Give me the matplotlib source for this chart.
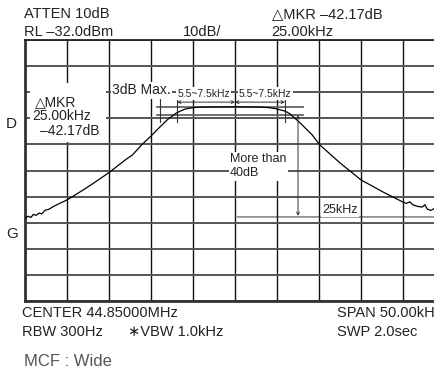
import matplotlib.pyplot as plt
from matplotlib.patches import Rectangle

plt.rcParams['font.family'] = ['Liberation Sans', 'DejaVu Sans']

# trace: frequency offset (kHz) vs level below RL (dB)
freq = [-25.0, -24.6, -24.3, -24.0, -23.7, -23.3, -23.0, -22.6, -22.2, -21.5,
        -20.8, -20.0, -19.0, -18.0, -17.0, -16.0, -15.0, -14.0, -13.0, -12.2,
        -11.0, -10.0, -9.0, -8.0, -7.0, -6.0, -5.0, -4.0, 0.0, 3.0,
        4.0, 5.0, 6.0, 6.5, 7.7, 9.2, 10.1, 12.5, 15.0, 17.6,
        20.0, 20.4, 20.8, 21.2, 21.8, 22.3, 22.6, 22.9, 23.3, 23.7,
        24.0, 24.4, 24.8, 25.0]
level = [-68.3, -67.5, -68.0, -66.8, -67.2, -66.3, -66.6, -65.2, -64.9, -63.6,
         -62.5, -61.3, -59.3, -57.3, -55.2, -53.0, -50.8, -48.3, -45.8, -44.0,
         -39.8, -36.8, -33.5, -30.4, -28.0, -26.5, -25.9, -25.7, -25.6, -25.7,
         -25.9, -26.4, -27.3, -28.2, -31.6, -36.4, -40.2, -47.1, -53.6, -58.2,
         -62.1, -62.6, -62.0, -63.2, -63.8, -64.0, -63.1, -64.8, -65.3, -64.6,
         -66.0, -65.8, -66.6, -66.9]

xgrid = list(range(-25, 26, 5))
ygrid = list(range(-100, 1, 10))

W, H = 435, 381
fig = plt.figure(figsize=(W / 100, H / 100), dpi=100)
ax = fig.add_axes([25 / W, 80 / H, 420 / W, 261 / H])
ax.set_xlim(-25, 25)
ax.set_ylim(-100, 0)
ax.set_xticks(xgrid)
ax.set_yticks(ygrid)
ax.tick_params(length=0, labelbottom=False, labelleft=False)
ax.xaxis.grid(True, color='#111111', lw=1.0)
ax.yaxis.grid(True, color='#555555', lw=1.4)
ax.set_axisbelow(True)
for s in ['left', 'bottom']:
    ax.spines[s].set_linewidth(2.0)
    ax.spines[s].set_color('#333333')
ax.spines['top'].set_linewidth(1.3)
ax.spines['top'].set_color('#222222')
ax.spines['right'].set_visible(False)

ax.plot(freq, level, color='black', lw=0.9, zorder=3)

lc = '#333333'
# 3dB reference lines
ax.plot([-9.3, 8.1], [-25.7, -25.7], color='#666666', lw=1.3, zorder=2)
ax.plot([-9.3, 8.1], [-28.7, -28.7], color='#666666', lw=1.3, zorder=2)
# vertical dimension ticks
ax.plot([-8.9, -8.9], [-21.8, -31.4], color=lc, lw=0.8, zorder=2)
ax.plot([-6.9, -6.9], [-21.8, -31.4], color=lc, lw=0.8, zorder=2)
ax.plot([5.95, 5.95], [-21.0, -31.4], color=lc, lw=0.8, zorder=2)
arw = dict(arrowstyle='<->', color=lc, lw=0.7, shrinkA=0, shrinkB=0,
           mutation_scale=5)
ax.annotate('', xy=(-6.9, -23.8), xytext=(0, -23.8), arrowprops=arw)
ax.annotate('', xy=(0, -23.8), xytext=(5.95, -23.8), arrowprops=arw)
ax.annotate('', xy=(7.5, -28.7), xytext=(7.5, -67.4), arrowprops=arw)
ax.annotate('', xy=(0.25, -67.8), xytext=(25, -67.8),
            arrowprops=dict(arrowstyle='<-', color=lc, lw=0.7,
                            shrinkA=0, shrinkB=0, mutation_scale=5))

box = dict(facecolor='white', edgecolor='none', pad=1.0)
tc = '#222222'
ax.text(-11.1, -19.2, '3dB Max.', fontsize=10, color=tc, ha='center',
        va='center', bbox=box, zorder=4)
ax.text(-3.75, -20.5, '5.5~7.5kHz', fontsize=7.5, color=tc, ha='center',
        va='center', bbox=box, zorder=4)
ax.text(3.6, -20.5, '5.5~7.5kHz', fontsize=7.5, color=tc, ha='center',
        va='center', bbox=box, zorder=4)
ax.text(-0.6, -48.3, 'More than\n40dB', fontsize=9, color=tc, ha='left',
        va='center', linespacing=1.25, bbox=box, zorder=4)
ax.text(10.4, -65.1, '25kHz', fontsize=9, color=tc, ha='left',
        va='center', bbox=box, zorder=4)

# marker readout box
ax.add_patch(Rectangle((-24.4, -39.1), 9.0, 22.6, facecolor='white',
                       edgecolor='none', zorder=4))
ax.text(-23.8, -23.8, '△MKR', fontsize=10, color=tc, ha='left',
        va='center', zorder=5)
ax.text(-24.15, -29.1, '25.00kHz', fontsize=10, color=tc, ha='left',
        va='center', zorder=5)
ax.text(-23.2, -34.9, '–42.17dB', fontsize=10, color=tc, ha='left',
        va='center', zorder=5)


def ftext(x, y, s, **kw):
    fig.text(x / W, 1 - y / H, s, va='center', **kw)


big = dict(fontsize=10.5, color=tc)
ftext(24, 14, 'ATTEN 10dB', **big)
ftext(24, 32, 'RL –32.0dBm', **big)
ftext(183, 32, '10dB/', **big)
ftext(272, 14, '△MKR –42.17dB', **big)
ftext(271, 32, '25.00kHz', **big)
ftext(22, 313, 'CENTER 44.85000MHz', **big)
ftext(22, 332, 'RBW 300Hz', **big)
ftext(128, 332, '∗VBW 1.0kHz', **big)
ftext(337, 313, 'SPAN 50.00kHz', **big)
ftext(337, 332, 'SWP 2.0sec', **big)
ftext(6, 124, 'D', fontsize=11, color=tc)
ftext(6, 234, 'G', fontsize=11, color=tc)
ftext(24, 362, 'MCF : Wide', fontsize=12, color='#555555')

fig.savefig('out.png', dpi=100)
